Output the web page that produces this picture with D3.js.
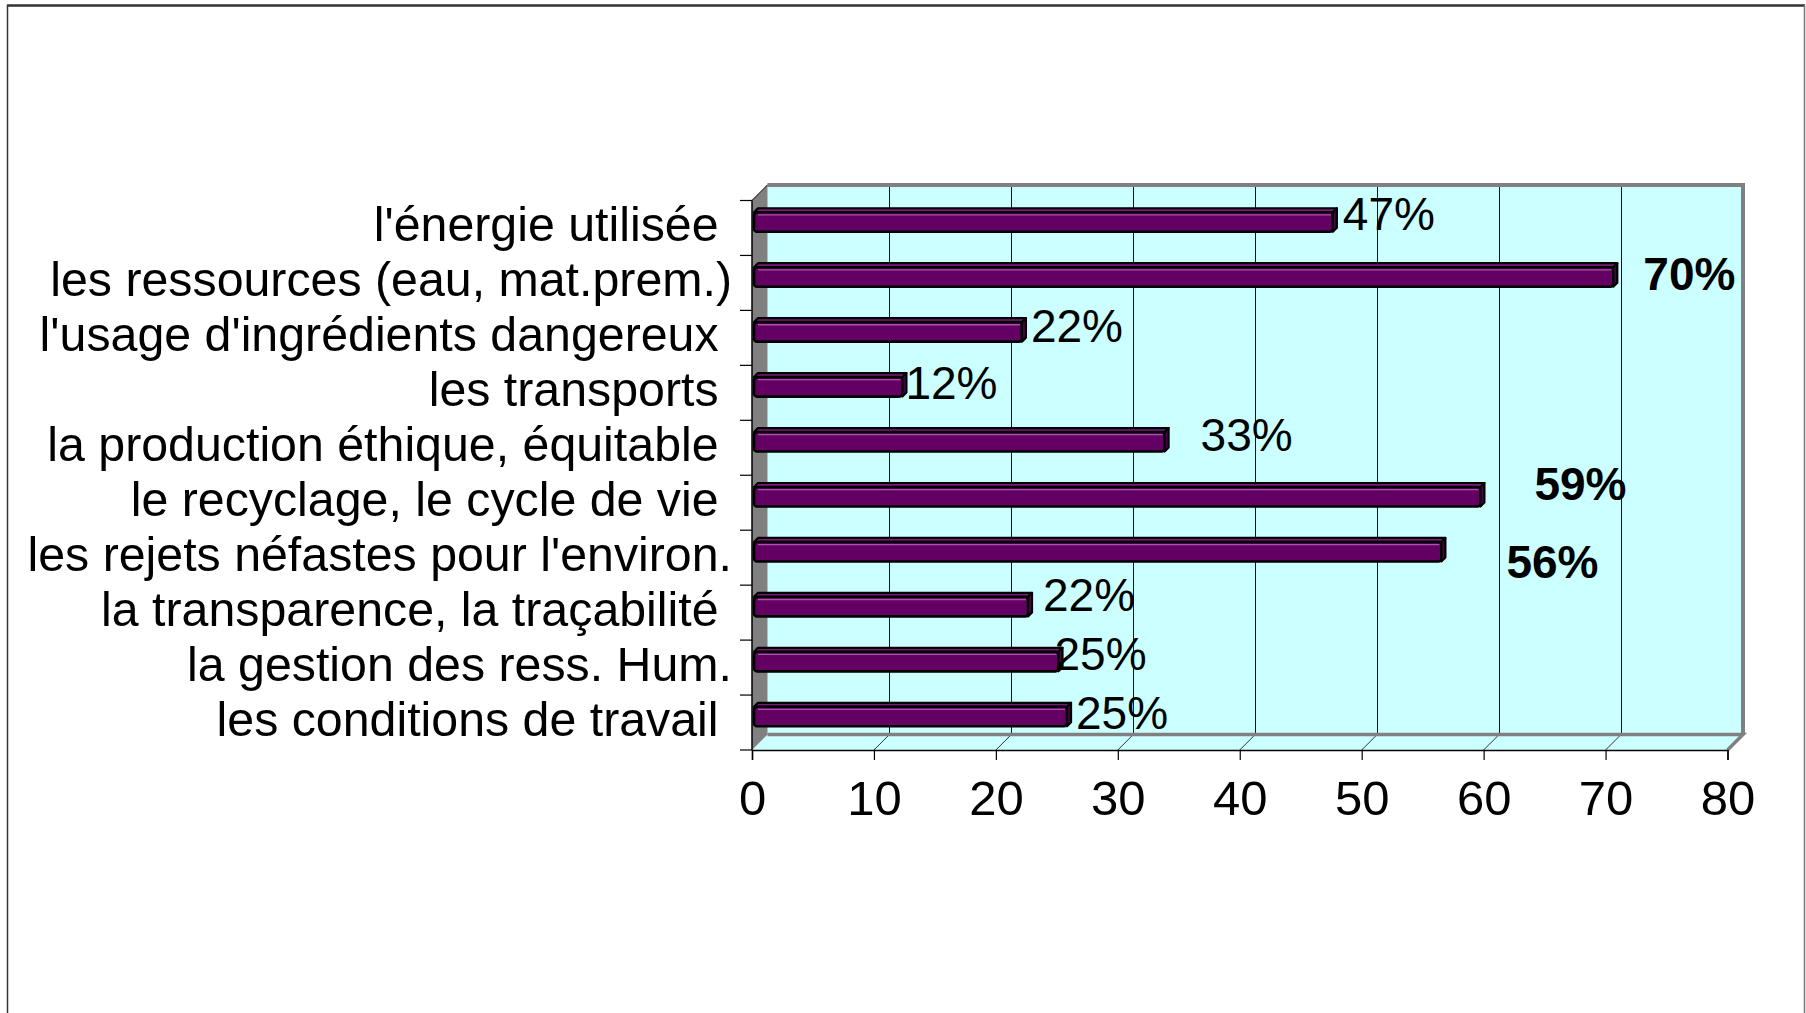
<!DOCTYPE html>
<html>
<head>
<meta charset="utf-8">
<script src="https://cdn.jsdelivr.net/npm/d3@7"></script>
<style>
  html, body { margin: 0; padding: 0; background: #ffffff; }
  svg { display: block; }
  text { font-family: "Liberation Sans", Arial, sans-serif; white-space: pre; }
</style>
</head>
<body>
<svg id="chart" width="1806" height="1013"></svg>
<script>
// ---- data ----
const categories = [
  "l'énergie utilisée ",
  "les ressources (eau, mat.prem.)",
  "l'usage d'ingrédients dangereux ",
  "les transports ",
  "la production éthique, équitable ",
  "le recyclage, le cycle de vie ",
  "les rejets néfastes pour l'environ.",
  "la transparence, la traçabilité ",
  "la gestion des ress. Hum.",
  "les conditions de travail "
];
const values = [47, 70, 21.5, 11.7, 33.2, 59.1, 55.9, 22, 24.5, 25.2];
const valueLabels = ["47%", "70%", "22%", "12%", "33%", "59%", "56%", "22%", "25%", "25%"];
const xTicks = [0, 10, 20, 30, 40, 50, 60, 70, 80];

// ---- layout ----
const svg = d3.select("#chart");
const W = 1806, H = 1013;
const D = 15.5;          // 3D depth offset
const half = D / 2;
const x = d3.scaleLinear().domain([0, 80]).range([752, 1727.5]);
const y = d3.scaleBand().domain(categories).range([200.5, 750]).paddingInner(0).paddingOuter(0);
const baseY = 750;
const topY = 200.5;

// label nudges (px) relative to bar end / bar centre
const labelNudges = [[10, 10], [30, 15], [9, 12], [3, 14], [36, 11], [54, 5], [65, 28], [15, 6], [-4, 10], [9, 14]];
const boldLabels = new Set([1, 5, 6]);

svg.append("rect").attr("width", W).attr("height", H).attr("fill", "#ffffff");

// outer frame
svg.append("line").attr("x1", 7).attr("x2", 1805).attr("y1", 5.5).attr("y2", 5.5)
  .attr("stroke", "#333").attr("stroke-width", 2.5);
svg.append("line").attr("x1", 7.5).attr("x2", 7.5).attr("y1", 5).attr("y2", H)
  .attr("stroke", "#333").attr("stroke-width", 1.5);
svg.append("line").attr("x1", 1804.5).attr("x2", 1804.5).attr("y1", 5).attr("y2", H)
  .attr("stroke", "#777").attr("stroke-width", 1.5);

const x0 = x(0), x1 = x(80);
const line = d3.line();
const crisp = v => Math.round(v) + 0.5;

// back wall
svg.append("path")
  .attr("d", line([[x0 + D, topY - D], [x1 + D, topY - D], [x1 + D, baseY - D], [x0 + D, baseY - D]]) + "Z")
  .attr("fill", "#ccffff").attr("stroke", "none");

// back wall gridlines
svg.append("g").selectAll("line").data(xTicks.filter(t => t > 0 && t < 80)).join("line")
  .attr("x1", d => crisp(x(d) + D)).attr("x2", d => crisp(x(d) + D))
  .attr("y1", topY - D).attr("y2", baseY - D)
  .attr("stroke", "#111").attr("stroke-width", 1);

// back wall border (top + right)
svg.append("path")
  .attr("d", line([[x0 + D, topY - D], [x1 + D, topY - D], [x1 + D, baseY - D]]))
  .attr("fill", "none").attr("stroke", "#808080").attr("stroke-width", 4);

// floor
svg.append("path")
  .attr("d", line([[x0, baseY], [x0 + D, baseY - D], [x1 + D, baseY - D], [x1, baseY]]) + "Z")
  .attr("fill", "#ccffff").attr("stroke", "none");
svg.append("g").selectAll("line").data(xTicks.filter(t => t > 0 && t < 80)).join("line")
  .attr("x1", d => x(d)).attr("x2", d => x(d) + D)
  .attr("y1", baseY).attr("y2", baseY - D)
  .attr("stroke", "#333").attr("stroke-width", 1);
svg.append("path")
  .attr("d", line([[x0 + D, baseY - D], [x1 + D, baseY - D], [x1, baseY]]))
  .attr("fill", "none").attr("stroke", "#808080").attr("stroke-width", 3.5);

// left side wall
svg.append("path")
  .attr("d", line([[x0, topY], [x0 + D, topY - D], [x0 + D, baseY - D], [x0, baseY]]) + "Z")
  .attr("fill", "#808080").attr("stroke", "none");
svg.append("line").attr("x1", x0).attr("y1", topY).attr("x2", x0 + D).attr("y2", topY - D)
  .attr("stroke", "#444").attr("stroke-width", 1.2);

// left axis line + ticks at band boundaries
svg.append("line").attr("x1", x0).attr("x2", x0).attr("y1", topY).attr("y2", baseY)
  .attr("stroke", "#000").attr("stroke-width", 1.5);
const bounds = categories.map(c => y(c)).concat([baseY]);
svg.append("g").selectAll("line").data(bounds).join("line")
  .attr("x1", x0 - 12).attr("x2", x0).attr("y1", d => d).attr("y2", d => d)
  .attr("stroke", "#000").attr("stroke-width", 1.2);

// bottom axis
const xAxis = d3.axisBottom(x).tickValues(xTicks).tickSize(10).tickPadding(20).tickFormat(d3.format("d"));
const gx = svg.append("g").attr("transform", `translate(0,${baseY})`).call(xAxis);
gx.select(".domain").attr("stroke", "#000").attr("stroke-width", 1.5);
gx.selectAll(".tick line").attr("stroke", "#000").attr("stroke-width", 1.2);
gx.selectAll(".tick text").attr("font-family", "'Liberation Sans', Arial, sans-serif")
  .attr("font-size", 49).attr("fill", "#000");

// bars
const bars = svg.append("g");
categories.forEach((cat, i) => {
  const c = y(cat) + y.bandwidth() / 2 - half;
  const xs = x(0) + 2;
  const xe = x(values[i]) + half;
  const ft = c - 8, fb = c + 11.5, d = 4;
  const g = bars.append("g");
  // top face
  g.append("path")
    .attr("d", line([[xs, ft], [xe, ft], [xe + d, ft - d], [xs + d, ft - d]]) + "Z")
    .attr("fill", "#7a1a7a").attr("stroke", "#000").attr("stroke-width", 2.2).attr("stroke-linejoin", "round");
  // front face
  g.append("rect").attr("x", xs).attr("y", ft).attr("width", xe - xs).attr("height", fb - ft)
    .attr("rx", 3)
    .attr("fill", "#640064").attr("stroke", "#000").attr("stroke-width", 2.6);
  // highlight
  g.append("line").attr("x1", xs + 4).attr("x2", xe - 2).attr("y1", ft + 2.6).attr("y2", ft + 2.6)
    .attr("stroke", "#a855a8").attr("stroke-width", 1.3);
  // right end cap
  g.append("path")
    .attr("d", line([[xe, ft], [xe + d, ft - d], [xe + d, fb - d], [xe, fb]]) + "Z")
    .attr("fill", "#4a004a").attr("stroke", "#000").attr("stroke-width", 2.2).attr("stroke-linejoin", "round");
});

// value labels
svg.append("g").selectAll("text").data(categories).join("text")
  .attr("x", (c, i) => x(values[i]) + half + labelNudges[i][0])
  .attr("y", (c, i) => y(c) + y.bandwidth() / 2 - half + labelNudges[i][1])
  .attr("font-size", 46)
  .attr("font-weight", (c, i) => boldLabels.has(i) ? "bold" : "normal")
  .attr("fill", "#000")
  .text((c, i) => valueLabels[i]);

// category labels
svg.append("g").selectAll("text").data(categories).join("text")
  .attr("x", 732)
  .attr("y", c => y(c) + y.bandwidth() / 2 + 13)
  .attr("text-anchor", "end")
  .attr("font-size", 48.3)
  .attr("fill", "#000")
  .text(c => c);
</script>
</body>
</html>
